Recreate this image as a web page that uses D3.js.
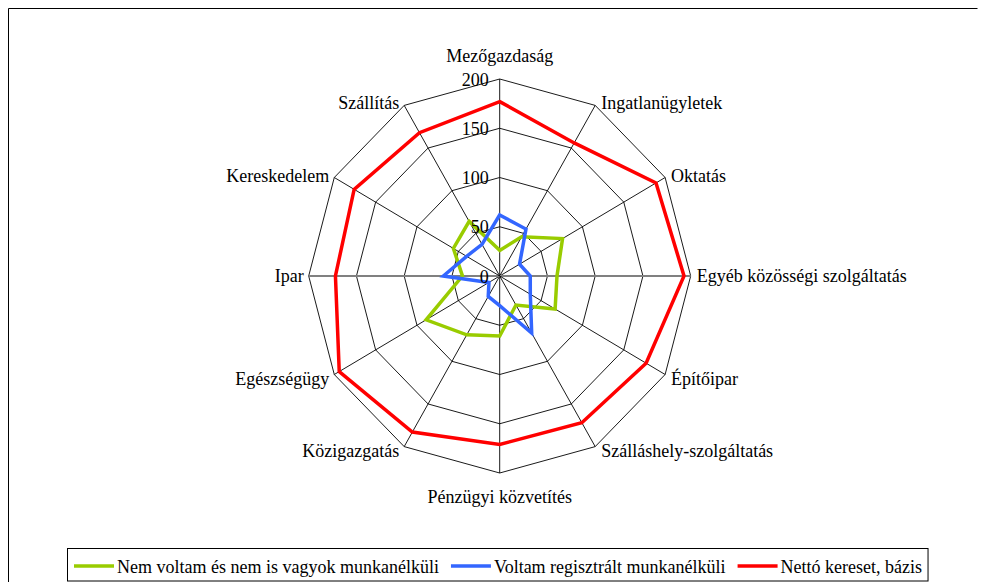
<!DOCTYPE html>
<meta charset="utf-8">
<script src="https://d3js.org/d3.v7.min.js"></script>
<style>
  body { margin: 0; background: #fff; }
  text { font-family: "Liberation Serif", "Times New Roman", serif; font-size: 18px; fill: #000; }
</style>
<div id="dataviz"></div>
<script>

// categories, clockwise from the top
var categories = ["Mezőgazdaság", "Ingatlanügyletek", "Oktatás", "Egyéb közösségi szolgáltatás",
  "Építőipar", "Szálláshely-szolgáltatás", "Pénzügyi közvetítés", "Közigazgatás",
  "Egészségügy", "Ipar", "Kereskedelem", "Szállítás"];

var nemVoltam = [26, 46, 76, 60, 67, 34, 61, 69, 89, 39, 56, 64];
var voltamReg = [62, 55, 24, 32, 37, 67, 30, 24, 13, 59, 40, 37];
var netto     = [177, 156, 189, 193, 177, 172, 171, 183, 194, 172, 176, 168];

var ticks = [0, 50, 100, 150, 200];

var seriesNames = ["Nem voltam és nem is vagyok munkanélküli", "Voltam regisztrált munkanélküli", "Nettó kereset, bázis"];
var seriesColors = ["#99cc00", "#3366ff", "#ff0000"];

var width = 986, height = 582;
var cx = 499.7, cy = 276;

var svg = d3.select("#dataviz")
  .append("svg")
    .attr("width", width)
    .attr("height", height);

// outer frame (left and top edges visible)
svg.append("path")
  .attr("d", "M8.5,590V8.5H977.5")
  .attr("fill", "none")
  .attr("stroke", "#000")
  .attr("stroke-width", 1);

var rX = d3.scaleLinear().domain([0, 200]).range([0, 191]);
var rY = d3.scaleLinear().domain([0, 200]).range([0, 197]);
var angle = d3.scaleLinear().domain([0, categories.length]).range([0, 2 * Math.PI]);

function px(i, v) { return cx + rX(v) * Math.sin(angle(i)); }
function py(i, v) { return cy - rY(v) * Math.cos(angle(i)); }

var idx = d3.range(categories.length);

// rings
ticks.forEach(function(t) {
  svg.append("path")
    .datum(idx)
    .attr("fill", "none")
    .attr("stroke", "#000")
    .attr("stroke-width", 0.9)
    .attr("d", d3.line()
      .x(function(i) { return px(i, t); })
      .y(function(i) { return py(i, t); })
      .curve(d3.curveLinearClosed));
});

// spokes
svg.selectAll(".spoke")
  .data(idx)
  .enter().append("line")
    .attr("x1", cx).attr("y1", cy)
    .attr("x2", function(i) { return px(i, 200); })
    .attr("y2", function(i) { return py(i, 200); })
    .attr("stroke", function(i) { return (i == 3 || i == 9) ? "#808080" : "#000"; })
    .attr("stroke-width", function(i) { return (i == 3 || i == 9) ? 2 : 0.9; });

// series
[nemVoltam, voltamReg, netto].forEach(function(vals, s) {
  svg.append("path")
    .datum(idx)
    .attr("fill", "none")
    .attr("stroke", seriesColors[s])
    .attr("stroke-width", 3.5)
    .attr("stroke-linejoin", "miter")
    .attr("d", d3.line()
      .x(function(i) { return px(i, vals[i]); })
      .y(function(i) { return py(i, vals[i]); })
      .curve(d3.curveLinearClosed));
});

// tick labels
svg.selectAll(".tick")
  .data(ticks)
  .enter().append("text")
    .attr("x", cx - 11)
    .attr("y", function(t) { return py(0, t) + 6.5; })
    .attr("text-anchor", "end")
    .text(function(t) { return t; });

// category labels
svg.selectAll(".cat")
  .data(idx)
  .enter().append("text")
    .attr("text-anchor", function(i) {
      var s = Math.sin(angle(i));
      return Math.abs(s) < 0.01 ? "middle" : (s > 0 ? "start" : "end");
    })
    .attr("x", function(i) {
      var s = Math.sin(angle(i));
      return px(i, 200) + (Math.abs(s) < 0.01 ? 0 : (s > 0 ? 6 : -5));
    })
    .attr("y", function(i) {
      var s = Math.sin(angle(i)), c = Math.cos(angle(i));
      var mid;
      if (Math.abs(s) < 0.01) mid = py(i, 200) - c * 23.5;
      else if (Math.abs(c) < 0.01) mid = py(i, 200);
      else mid = py(i, 200) + (c > 0 ? -2 : 4);
      return mid + 6;
    })
    .text(function(i) { return categories[i]; });

// legend
var legend = svg.append("g");
var box = legend.append("rect")
  .attr("fill", "#fff")
  .attr("stroke", "#000")
  .attr("stroke-width", 1);

var lx = 74;
seriesNames.forEach(function(name, s) {
  legend.append("line")
    .attr("x1", lx).attr("x2", lx + 40)
    .attr("y1", 566).attr("y2", 566)
    .attr("stroke", seriesColors[s])
    .attr("stroke-width", 3.5);
  var t = legend.append("text")
    .attr("x", lx + 43)
    .attr("y", 572.5)
    .text(name);
  lx = lx + 43 + t.node().getComputedTextLength() + 12;
});

box.attr("x", 67.5).attr("y", 548.5)
  .attr("width", lx - 67.5 - 6)
  .attr("height", 32.5);

</script>
